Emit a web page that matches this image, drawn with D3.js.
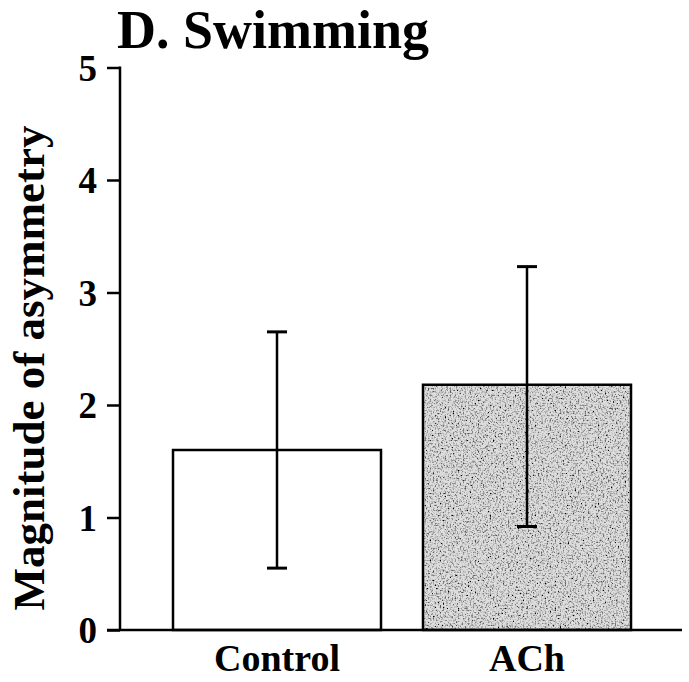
<!DOCTYPE html>
<html>
<head>
<meta charset="utf-8">
<script src="https://cdn.jsdelivr.net/npm/d3@7"></script>
<style>
html,body{margin:0;padding:0;background:#fff;}
svg{display:block;}
.serif{font-family:"Times New Roman",Times,"Liberation Serif",serif;font-weight:bold;}
</style>
</head>
<body>
<svg id="chart" width="689" height="682"></svg>
<script>
const categories = ["Control", "ACh"];
const means = [1.6, 2.18];
const errLow = [0.55, 0.92];
const errHigh = [2.65, 3.23];
const yTicks = [0, 1, 2, 3, 4, 5];
const title = "D. Swimming";
const yLabel = "Magnitude of asymmetry";

const svg = d3.select("#chart");
const defs = svg.append("defs");

// stipple texture for the ACh bar
const f = defs.append("filter").attr("id","stip").attr("x",0).attr("y",0).attr("width",1).attr("height",1);
f.append("feTurbulence").attr("type","fractalNoise").attr("baseFrequency",0.6).attr("numOctaves",2).attr("seed",3).attr("result","n");
f.append("feColorMatrix").attr("in","n").attr("type","matrix")
  .attr("values","0 0 0 0 0  0 0 0 0 0  0 0 0 0 0  -3 0 0 0 1.6").attr("result","dots");
f.append("feFlood").attr("flood-color","#dedede").attr("result","bg");
f.append("feComposite").attr("in","dots").attr("in2","SourceGraphic").attr("operator","in").attr("result","d2");
f.append("feMerge").call(m => { m.append("feMergeNode").attr("in","bg"); m.append("feMergeNode").attr("in","d2"); });
f.append("feComposite").attr("in2","SourceGraphic").attr("operator","in");

const y = d3.scaleLinear().domain([0,5]).range([630,67.5]);
const x = d3.scaleBand().domain(categories).range([120,684]).paddingInner(0.168).paddingOuter(0.212);

// bars
const fills = ["#fff", "stip"];
categories.forEach((c,i) => {
  const bx = x(c), bw = x.bandwidth(), by = y(means[i]), bh = y(0) - y(means[i]);
  if (fills[i] === "stip") {
    svg.append("rect").attr("x",bx).attr("y",by).attr("width",bw).attr("height",bh)
      .attr("fill","#000").attr("filter","url(#stip)");
    svg.append("rect").attr("x",bx).attr("y",by).attr("width",bw).attr("height",bh)
      .attr("fill","none").attr("stroke","#000").attr("stroke-width",2.5);
  } else {
    svg.append("rect").attr("x",bx).attr("y",by).attr("width",bw).attr("height",bh)
      .attr("fill","#fff").attr("stroke","#000").attr("stroke-width",2.5);
  }
  const cx = bx + bw/2;
  svg.append("line").attr("x1",cx).attr("x2",cx).attr("y1",y(errLow[i])).attr("y2",y(errHigh[i]))
    .attr("stroke","#000").attr("stroke-width",2.5);
  [errLow[i], errHigh[i]].forEach(v => {
    svg.append("line").attr("x1",cx-10).attr("x2",cx+10).attr("y1",y(v)).attr("y2",y(v))
      .attr("stroke","#000").attr("stroke-width",3);
  });
});

// y axis
const yAxis = d3.axisLeft(y).tickValues(yTicks).tickSize(13).tickPadding(10).tickFormat(d3.format("d"));
const gy = svg.append("g").attr("transform","translate(120,0)").call(yAxis);
gy.select(".domain").remove();
gy.selectAll(".tick line").attr("stroke","#000").attr("stroke-width",2.5);
gy.selectAll(".tick text").attr("class","serif").attr("font-size",37).attr("fill","#000").attr("dy","0.34em");
svg.append("line").attr("x1",120).attr("x2",120).attr("y1",y(5)-1).attr("y2",y(0)).attr("stroke","#000").attr("stroke-width",2.5);

// x axis
const xAxis = d3.axisBottom(x).tickSize(0).tickPadding(14);
const gx = svg.append("g").attr("transform","translate(0,630)").call(xAxis);
gx.select(".domain").remove();
gx.selectAll(".tick text").attr("class","serif").attr("font-size",38).attr("fill","#000").attr("dy","0.71em");
svg.append("line").attr("x1",107).attr("x2",682).attr("y1",y(0)).attr("y2",y(0)).attr("stroke","#000").attr("stroke-width",2.5);

// title
svg.append("text").attr("class","serif").attr("x",117).attr("y",48).attr("font-size",54).attr("fill","#000")
  .text(title);

// y label
svg.append("text").attr("class","serif").attr("transform","translate(44,368) rotate(-90)").attr("text-anchor","middle")
  .attr("font-size",45).attr("fill","#000").text(yLabel);
</script>
</body>
</html>
